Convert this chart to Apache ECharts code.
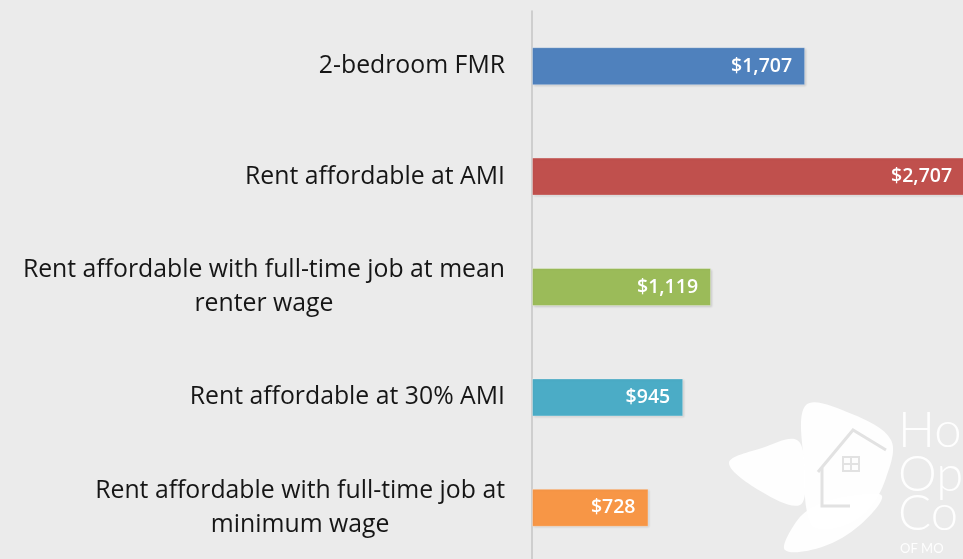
<!DOCTYPE html>
<html>
<head>
<meta charset="utf-8">
<script src="https://cdn.jsdelivr.net/npm/echarts@6/dist/echarts.min.js"></script>
<style>
  html, body { margin: 0; padding: 0; background: #ebebeb; }
  #chart { width: 963px; height: 559px; }
</style>
</head>
<body>
<div id="chart"></div>
<script>
var categories = [
  '2-bedroom FMR',
  'Rent affordable at AMI',
  'Rent affordable with full-time job at mean\nrenter wage',
  'Rent affordable at 30% AMI',
  'Rent affordable with full-time job at\nminimum wage'
];
var values = [1707, 2707, 1119, 945, 728];
var colors = ['#4f81bd', '#c0504d', '#9bbb59', '#4bacc6', '#f79646'];

var chart = echarts.init(document.getElementById('chart'));

function money(v) {
  return '$' + v.toString().replace(/\B(?=(\d{3})+(?!\d))/g, ',');
}

var logoFill = 'rgba(255,255,255,0.92)';

var option = {
  backgroundColor: '#ebebeb',
  animation: false,
  // plot runs past the right edge, the red bar is cut off like in the source
  grid: { left: 532, width: 480, top: 11, height: 552, containLabel: false, outerBoundsMode: 'none' },
  xAxis: {
    type: 'value',
    min: 0,
    max: 3000,
    show: false
  },
  yAxis: {
    type: 'category',
    inverse: true,
    data: categories,
    axisLine: { show: true, lineStyle: { color: '#c4c4c4', width: 1.5 } },
    axisTick: { show: false },
    axisLabel: {
      margin: 27,
      align: 'right',
      formatter: function (v) {
        // each line centred inside the block, block right-aligned (like Excel)
        return v.split('\n').map(function (l) { return '{c|' + l + '}'; }).join('\n');
      },
      rich: {
        c: {
          align: 'center',
          color: '#161616',
          fontFamily: 'Open Sans',
          fontWeight: 500,
          fontSize: 24.8,
          lineHeight: 34
        }
      }
    }
  },
  series: [{
    type: 'bar',
    barWidth: 38,
    clip: false,
    data: values.map(function (v, i) {
      return { value: v, itemStyle: { color: colors[i] } };
    }),
    itemStyle: {
      borderColor: 'rgba(255,255,255,0.3)',
      borderWidth: 1,
      shadowColor: 'rgba(0,0,0,0.12)',
      shadowBlur: 2,
      shadowOffsetX: 1,
      shadowOffsetY: 1
    },
    label: {
      show: true,
      position: 'insideRight',
      distance: 13,
      color: '#ffffff',
      fontFamily: 'Open Sans',
      fontWeight: 600,
      fontSize: 19.5,
      formatter: function (p) { return money(p.value); }
    }
  }],
  graphic: [
    // watermark logo (leaves + house), rough shapes
    { type: 'polygon', shape: { smooth: 0.35, points: [[806, 405], [852, 414], [891, 440], [886, 478], [866, 512], [835, 528], [811, 524], [804, 465]] }, style: { fill: logoFill } },
    { type: 'polygon', shape: { smooth: 0.35, points: [[729, 463], [762, 448], [797, 440], [805, 472], [800, 505], [762, 492]] }, style: { fill: logoFill } },
    { type: 'polygon', shape: { smooth: 0.35, points: [[785, 550], [796, 522], [815, 506], [850, 496], [882, 496], [860, 525], [822, 547]] }, style: { fill: logoFill } },
    { type: 'polyline', shape: { points: [[818, 472], [853, 430], [886, 450]] }, style: { stroke: '#e2e2e2', lineWidth: 3 } },
    { type: 'polyline', shape: { points: [[822, 468], [822, 506], [850, 506]] }, style: { stroke: '#e2e2e2', lineWidth: 3 } },
    { type: 'rect', shape: { x: 842, y: 456, width: 18, height: 16 }, style: { fill: '#e2e2e2' } },
    { type: 'rect', shape: { x: 844, y: 458, width: 6, height: 5 }, style: { fill: logoFill } },
    { type: 'rect', shape: { x: 852, y: 458, width: 6, height: 5 }, style: { fill: logoFill } },
    { type: 'rect', shape: { x: 844, y: 465, width: 6, height: 5 }, style: { fill: logoFill } },
    { type: 'rect', shape: { x: 852, y: 465, width: 6, height: 5 }, style: { fill: logoFill } },
    { type: 'text', style: { x: 898, y: 431, text: 'Ho', verticalAlign: 'middle', fill: logoFill, font: '300 49px Lato' } },
    { type: 'text', style: { x: 898, y: 475, text: 'Op', verticalAlign: 'middle', fill: logoFill, font: '300 49px Lato' } },
    { type: 'text', style: { x: 898, y: 514, text: 'Co', verticalAlign: 'middle', fill: logoFill, font: '300 49px Lato' } },
    { type: 'text', style: { x: 900, y: 549, text: 'OF MO', verticalAlign: 'middle', fill: logoFill, font: '13px Lato' } }
  ]
};

chart.setOption(option);
</script>
</body>
</html>
